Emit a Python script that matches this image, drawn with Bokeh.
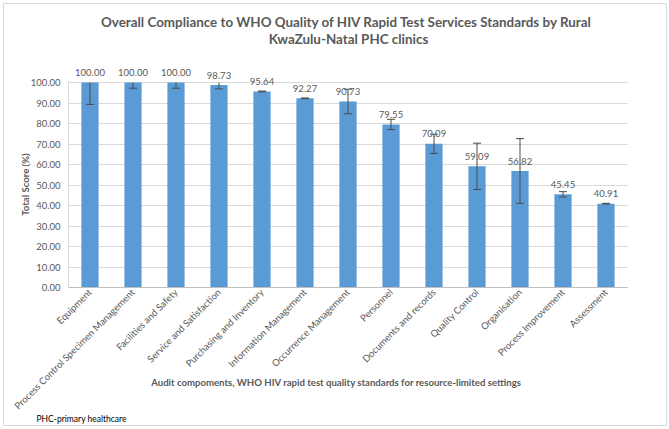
import math
from bokeh.plotting import figure
from bokeh.models import Range1d, FixedTicker, ColumnDataSource, NumeralTickFormatter
from bokeh.core.properties import value
from bokeh.embed import file_html
from bokeh.resources import INLINE

# ---------------- data ----------------
categories = ["Equipment", "Process Control Specimen Management", "Facilities and Safety",
              "Service and Satisfaction", "Purchasing and Inventory", "Information Management",
              "Occurrence Management", "Personnel", "Documents and records", "Quality Control",
              "Organisation", "Process Improvement", "Assessment"]
scores = [100.00, 100.00, 100.00, 98.73, 95.64, 92.27, 90.73, 79.55, 70.09, 59.09, 56.82, 45.45, 40.91]
errors = [10.7, 2.8, 2.8, 1.8, 0.2, 0.2, 6.0, 2.5, 4.7, 11.3, 15.8, 1.3, 0.15]
y_ticks = [0, 10, 20, 30, 40, 50, 60, 70, 80, 90, 100]

title_lines = ["Overall Compliance to WHO Quality of HIV Rapid Test Services Standards by  Rural",
               "KwaZulu-Natal PHC clinics"]
x_title = "Audit compoments, WHO HIV rapid test quality standards for resource-limited settings"
y_title = "Total Score (%)"
footnote = "PHC-primary healthcare"

# ---------------- layout (canvas pixels) ----------------
W, H = 669, 429
PL, PR = 68, 627          # plot area left / right
PY0, PY100 = 287, 82      # pixel rows of 0 and 100
n = len(categories)
XS = (PR - PL) / n        # px per category
YS = (PY0 - PY100) / 100  # px per unit

def dx(px):
    return -0.5 + (px - PL) / XS

def dy(py):
    return (PY0 - py) / YS

GRAY = "#595959"
FONT = "Lato"
BAR = "#5b9bd5"
ERR = "#4a4a4a"

idx = list(range(n))
upper = [min(s + e, 100.0) for s, e in zip(scores, errors)]
lower = [s - e for s, e in zip(scores, errors)]
labels = ["%.2f" % s for s in scores]
CAP = 4 / XS

src = ColumnDataSource(dict(x=idx, top=scores, up=upper, lo=lower, lab=labels,
                            x0=[i - CAP for i in idx], x1=[i + CAP for i in idx]))
cap_idx = [i for i in idx if scores[i] + errors[i] < 100.0]
cap_src = ColumnDataSource(dict(x0=[i - CAP for i in cap_idx], x1=[i + CAP for i in cap_idx],
                                y=[upper[i] for i in cap_idx]))

p = figure(width=W, height=H, output_backend="svg", toolbar_location=None,
           x_range=Range1d(dx(0), dx(W)), y_range=Range1d(dy(H), dy(0)),
           min_border=0, x_axis_location="below", y_axis_location="left")
p.outline_line_color = None
p.background_fill_color = "white"
p.border_fill_color = "white"

# chart border
p.quad(left=[dx(3)], right=[dx(666)], top=[dy(3)], bottom=[dy(425)],
       fill_color=None, line_color="#d9d9d9", line_width=1)

p.vbar(x="x", top="top", width=0.4, bottom=0, source=src, fill_color=BAR, line_color=None)
p.segment(x0="x", y0="lo", x1="x", y1="up", source=src, line_color=ERR, line_width=1)
p.segment(x0="x0", y0="lo", x1="x1", y1="lo", source=src, line_color=ERR, line_width=1)
p.segment(x0="x0", y0="y", x1="x1", y1="y", source=cap_src, line_color=ERR, line_width=1)
p.text(x="x", y="top", text="lab", source=src, text_align="center", text_baseline="middle",
       y_offset=-10, text_font=value(FONT), text_font_size="9.5px", text_color=GRAY)

# axes, drawn at fixed positions inside the canvas-wide frame
p.xaxis.fixed_location = 0
p.xaxis.bounds = (-0.5, n - 0.5)
p.xaxis.ticker = FixedTicker(ticks=idx)
p.xaxis.major_label_overrides = {i: c for i, c in zip(idx, categories)}
p.xaxis.major_label_orientation = math.pi / 4
p.xaxis.major_tick_line_color = None
p.xaxis.minor_tick_line_color = None
p.xaxis.major_tick_out = 0
p.xaxis.major_label_standoff = 3
p.xaxis.axis_line_color = "#bfbfbf"
p.xaxis.major_label_text_font = FONT
p.xaxis.major_label_text_font_size = "9.5px"
p.xaxis.major_label_text_color = GRAY

p.yaxis.fixed_location = -0.5
p.yaxis.ticker = FixedTicker(ticks=y_ticks)
p.yaxis.formatter = NumeralTickFormatter(format="0.00")
p.yaxis.bounds = (0, 100)
p.yaxis.major_tick_line_color = None
p.yaxis.minor_tick_line_color = None
p.yaxis.major_tick_out = 0
p.yaxis.major_label_standoff = 8
p.yaxis.axis_line_color = "#d9d9d9"
p.yaxis.major_label_text_font = FONT
p.yaxis.major_label_text_font_size = "9.5px"
p.yaxis.major_label_text_color = GRAY

p.xgrid.grid_line_color = None
p.ygrid.grid_line_color = "#d9d9d9"
p.ygrid.bounds = (0, 100)
p.ygrid.cross_bounds = (-0.5, n - 0.5)

# titles and notes as text glyphs (positions given in canvas pixels)
tsrc = ColumnDataSource(dict(x=[dx(348), dx(348)], y=[dy(21), dy(38)], t=title_lines))
p.text(x="x", y="y", text="t", source=tsrc, text_align="center", text_baseline="middle",
       text_font=value(FONT), text_font_style="bold", text_font_size="13.4px", text_color=GRAY)
p.text(x=[dx(336)], y=[dy(382)], text=[x_title], text_align="center", text_baseline="middle",
       text_font=value(FONT), text_font_style="bold", text_font_size="9.6px", text_color=GRAY)
p.text(x=[dx(25)], y=[dy(184)], text=[y_title], angle=math.pi / 2, text_align="center",
       text_baseline="middle", text_font=value(FONT), text_font_style="bold",
       text_font_size="9.6px", text_color=GRAY)
p.text(x=[dx(36)], y=[dy(418)], text=[footnote], text_align="left", text_baseline="middle",
       text_font=value(FONT), text_font_size="8.5px", text_color="black")

open("out.html", "w").write(file_html(p, INLINE))
